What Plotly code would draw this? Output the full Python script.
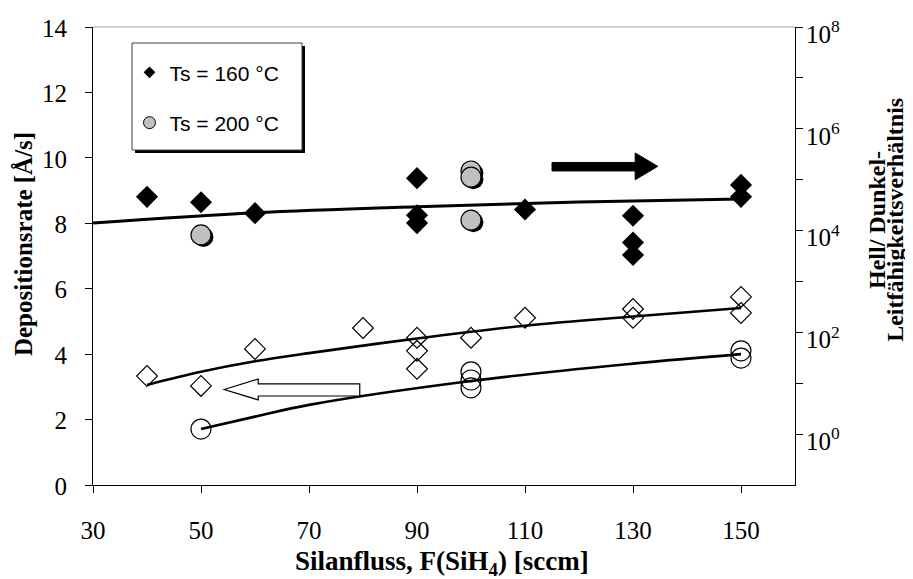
import plotly.graph_objects as go

# ---------------- data ----------------
# Deposition rate (left axis, Å/s)
dep160_x = [40, 50, 60, 80, 90, 90, 90, 100, 110, 130, 130, 150, 150]
dep160_y = [3.33, 3.03, 4.16, 4.80, 4.50, 4.10, 3.55, 4.50, 5.11, 5.38, 5.11, 5.75, 5.26]
dep200_x = [50, 100, 100, 100, 150, 150]
dep200_y = [1.71, 3.46, 3.21, 2.97, 4.10, 3.88]

# Photo/dark conductivity ratio (right axis, log)
ratio160_x = [40, 50, 60, 90, 90, 90, 110, 130, 130, 130, 150, 150]
ratio160_y = [4.6e4, 3.6e4, 2.2e4, 1.07e5, 2.0e4, 1.4e4, 2.6e4, 1.95e4, 5.8e3, 3.3e3, 7.9e4, 4.6e4]
ratio200_x = [50, 100, 100, 100]
ratio200_y = [8.2e3, 1.48e5, 1.12e5, 1.6e4]

# trend lines
trend_dep160_x = [40, 50, 60, 70, 90, 110, 130, 150]
trend_dep160_y = [3.06, 3.46, 3.78, 4.03, 4.48, 4.87, 5.15, 5.41]
trend_dep200_x = [50, 60, 70, 100, 130, 150]
trend_dep200_y = [1.71, 2.09, 2.45, 3.18, 3.71, 4.00]
trend_ratio_x = [30, 60, 90, 120, 150]
trend_ratio_y = [1.41e4, 2.24e4, 2.95e4, 3.63e4, 4.17e4]

x_ticks = [30, 50, 70, 90, 110, 130, 150]
y_ticks = [0, 2, 4, 6, 8, 10, 12, 14]
y2_tickvals = [1e0, 1e1, 1e2, 1e3, 1e4, 1e5, 1e6, 1e7, 1e8]
y2_ticktext = ["10<sup>0</sup>", " ", "10<sup>2</sup>", " ", "10<sup>4</sup>", " ",
               "10<sup>6</sup>", " ", "10<sup>8</sup>"]

legend_names = ["Ts = 160 °C", "Ts = 200 °C"]

SERIF = "Liberation Serif"
SANS = "Liberation Sans"

fig = go.Figure()

# deposition rate trend lines
fig.add_trace(go.Scatter(x=trend_dep160_x, y=trend_dep160_y, mode="lines",
                         line=dict(color="black", width=2.6, shape="spline"),
                         showlegend=False, hoverinfo="skip"))
fig.add_trace(go.Scatter(x=trend_dep200_x, y=trend_dep200_y, mode="lines",
                         line=dict(color="black", width=2.6, shape="spline"),
                         showlegend=False, hoverinfo="skip"))
# deposition rate points
fig.add_trace(go.Scatter(x=dep160_x, y=dep160_y, mode="markers",
                         marker=dict(symbol="diamond-open", size=16, color="black",
                                     line=dict(width=1.2, color="black")),
                         showlegend=False))
fig.add_trace(go.Scatter(x=dep200_x, y=dep200_y, mode="markers",
                         marker=dict(symbol="circle-open", size=20, color="black",
                                     line=dict(width=1.2, color="black")),
                         showlegend=False))

# ratio trend line
fig.add_trace(go.Scatter(x=trend_ratio_x, y=trend_ratio_y, mode="lines", yaxis="y2",
                         line=dict(color="black", width=3, shape="spline"),
                         showlegend=False, hoverinfo="skip"))
# ratio points
fig.add_trace(go.Scatter(x=ratio160_x, y=ratio160_y, mode="markers", yaxis="y2",
                         marker=dict(symbol="diamond", size=17, color="black",
                                     line=dict(width=0)),
                         showlegend=False))
# shadow for grey circles
fig.add_trace(go.Scatter(x=[v + 0.45 for v in ratio200_x],
                         y=[v * 0.91 for v in ratio200_y], mode="markers", yaxis="y2",
                         marker=dict(symbol="circle", size=20, color="black",
                                     line=dict(width=0)),
                         showlegend=False, hoverinfo="skip"))
fig.add_trace(go.Scatter(x=ratio200_x, y=ratio200_y, mode="markers", yaxis="y2",
                         marker=dict(symbol="circle", size=20, color="#C0C0C0",
                                     line=dict(width=1.2, color="black")),
                         showlegend=False))

# legend entries
fig.add_trace(go.Scatter(x=[None], y=[None], mode="markers", name=legend_names[0],
                         legendgroup="a",
                         marker=dict(symbol="diamond", size=9, color="black")))
fig.add_trace(go.Scatter(x=[None], y=[None], mode="markers", name=legend_names[1],
                         legendgroup="b",
                         marker=dict(symbol="circle", size=12, color="#C0C0C0",
                                     line=dict(width=1, color="black"))))

# legend box with shadow (paper coords)
bx0, bx1, by0, by1 = 0.0556, 0.2977, 0.7314, 0.965
sdx, sdy = 0.0043, 0.0066
shapes = [
    dict(type="rect", xref="paper", yref="paper", x0=bx0 + sdx, x1=bx1 + sdx,
         y0=by0 - sdy, y1=by1 - sdy, fillcolor="black", line=dict(width=0), layer="above"),
    dict(type="rect", xref="paper", yref="paper", x0=bx0, x1=bx1, y0=by0, y1=by1,
         fillcolor="white", line=dict(color="#404040", width=1), layer="above"),
    # top border of plot area (grey)
    dict(type="line", xref="paper", yref="paper", x0=0, x1=1, y0=1, y1=1,
         line=dict(color="#A0A0A0", width=1)),
    # black arrow pointing right (towards right axis)
    dict(type="path", xref="x", yref="y",
         path="M115,9.60 L130.4,9.60 L130.4,9.33 L134.6,9.74 L130.4,10.15 L130.4,9.86 L115,9.86 Z",
         fillcolor="black", line=dict(color="black", width=1)),
    # white arrow pointing left (towards left axis)
    dict(type="path", xref="x", yref="y",
         path="M54.3,2.92 L60.6,3.24 L60.6,3.09 L79.4,3.09 L79.4,2.72 L60.6,2.72 L60.6,2.60 Z",
         fillcolor="white", line=dict(color="black", width=1.2)),
]

annotations = [
    dict(text="<b>Silanfluss, F(SiH<sub>4</sub>) [sccm]</b>", xref="paper", yref="paper",
         x=0.497, y=-0.170, showarrow=False, xanchor="center", yanchor="middle",
         font=dict(family=SERIF, size=27, color="black")),
    dict(text="<b>Depositionsrate [Å/s]</b>", xref="paper", yref="paper",
         x=-0.0997, y=0.526, showarrow=False, textangle=-90,
         xanchor="center", yanchor="middle",
         font=dict(family=SERIF, size=25, color="black")),
    dict(text="<b>Hell/ Dunkel-</b>", xref="paper", yref="paper",
         x=1.117, y=0.579, showarrow=False, textangle=-90,
         xanchor="center", yanchor="middle",
         font=dict(family=SERIF, size=24, color="black")),
    dict(text="<b>Leitfähigkeitsverhältnis</b>", xref="paper", yref="paper",
         x=1.1425, y=0.579, showarrow=False, textangle=-90,
         xanchor="center", yanchor="middle",
         font=dict(family=SERIF, size=24, color="black")),
]

axis_font = dict(family=SERIF, size=25, color="black")

# page has an 8px body margin: figure sized 905x571 so the plot area lands
# at page x 93..795, y 27..485
fig.update_layout(
    width=905, height=571,
    margin=dict(l=85, r=118, t=19, b=94, autoexpand=False),
    paper_bgcolor="white", plot_bgcolor="white",
    font=dict(family=SERIF, color="black"),
    xaxis=dict(range=[30, 160], tickvals=x_ticks, ticks="outside", ticklen=7,
               tickcolor="black", showline=True, linecolor="black", linewidth=1,
               showgrid=False, zeroline=False, tickfont=axis_font,
               ticklabelstandoff=16, automargin=False, ticklabeloverflow="allow"),
    yaxis=dict(range=[0, 14], tickvals=y_ticks, ticks="outside", ticklen=7,
               tickcolor="black", showline=True, linecolor="black", linewidth=1,
               showgrid=False, zeroline=False, tickfont=axis_font,
               ticklabelstandoff=13, ticklabelshift=1, automargin=False,
               ticklabeloverflow="allow"),
    yaxis2=dict(type="log", range=[-1, 8], overlaying="y", side="right",
                tickvals=y2_tickvals, ticktext=y2_ticktext, ticks="outside",
                ticklen=7, tickcolor="black", showline=True, linecolor="black",
                linewidth=1, showgrid=False, zeroline=False, tickfont=axis_font,
                ticklabelstandoff=-2, ticklabelshift=7, automargin=False,
                ticklabeloverflow="allow"),
    legend=dict(x=0.052, y=0.945, xanchor="left", yanchor="top",
                bgcolor="rgba(0,0,0,0)", borderwidth=0,
                font=dict(family=SANS, size=21, color="black"),
                traceorder="grouped", tracegroupgap=20, itemsizing="trace"),
    shapes=shapes,
    annotations=annotations,
)

fig.write_html("out.html")
